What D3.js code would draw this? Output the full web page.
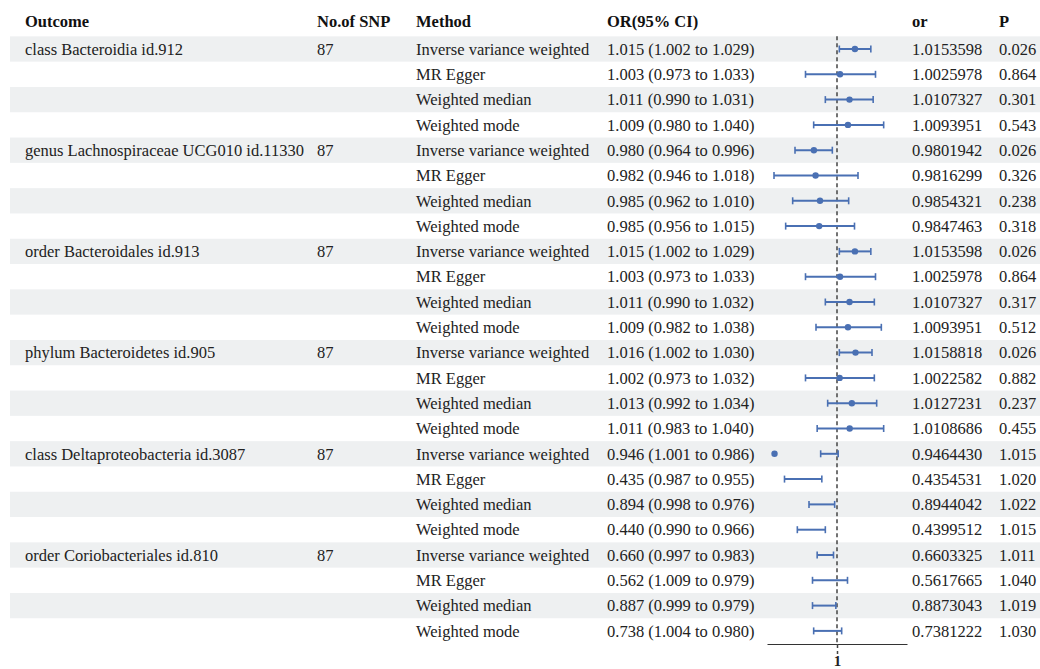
<html>
<head>
  <script src="https://d3js.org/d3.v7.min.js"></script>
  <style>
    body { margin: 0; padding: 0; background: #fff; }
    svg text { font-family: "Liberation Serif", "DejaVu Serif", serif; font-size: 16.5px; fill: #222; }
    svg text.head { font-weight: bold; fill: #111; }
  </style>
</head>
<body>
<div id="chart"></div>
<script>
const outcomes = [
  "class Bacteroidia id.912", "", "", "",
  "genus Lachnospiraceae UCG010 id.11330", "", "", "",
  "order Bacteroidales id.913", "", "", "",
  "phylum Bacteroidetes id.905", "", "", "",
  "class Deltaproteobacteria id.3087", "", "", "",
  "order Coriobacteriales id.810", "", "", ""
];
const snps = ["87", "", "", "", "87", "", "", "", "87", "", "", "", "87", "", "", "", "87", "", "", "", "87", "", "", ""];
const methodNames = ["Inverse variance weighted", "MR Egger", "Weighted median", "Weighted mode"];
const orValues = [
  1.0153598, 1.0025978, 1.0107327, 1.0093951,
  0.9801942, 0.9816299, 0.9854321, 0.9847463,
  1.0153598, 1.0025978, 1.0107327, 1.0093951,
  1.0158818, 1.0022582, 1.0127231, 1.0108686,
  0.9464430, 0.4354531, 0.8944042, 0.4399512,
  0.6603325, 0.5617665, 0.8873043, 0.7381222
];
const ciLow = [
  1.002, 0.973, 0.990, 0.980,
  0.964, 0.946, 0.962, 0.956,
  1.002, 0.973, 0.990, 0.982,
  1.002, 0.973, 0.992, 0.983,
  1.001, 0.987, 0.998, 0.990,
  0.997, 1.009, 0.999, 1.004
];
const ciHigh = [
  1.029, 1.033, 1.031, 1.040,
  0.996, 1.018, 1.010, 1.015,
  1.029, 1.033, 1.032, 1.038,
  1.030, 1.032, 1.034, 1.040,
  0.986, 0.955, 0.976, 0.966,
  0.983, 0.979, 0.979, 0.980
];
const pValues = [
  "0.026", "0.864", "0.301", "0.543",
  "0.026", "0.326", "0.238", "0.318",
  "0.026", "0.864", "0.317", "0.512",
  "0.026", "0.882", "0.237", "0.455",
  "1.015", "1.020", "1.022", "1.015",
  "1.011", "1.040", "1.019", "1.030"
];
const headers = ["Outcome", "No.of SNP", "Method", "OR(95% CI)", "or", "P"];

const width = 1040, height = 669;
const rowTop = 49, rowH = 25.3;
const colX = [25, 317, 416, 607, 912, 999];
const blue = "#4a70b3";

const rows = orValues.map((v, i) => ({
  outcome: outcomes[i],
  snp: snps[i],
  method: methodNames[i % 4],
  or: v,
  lo: ciLow[i],
  hi: ciHigh[i],
  p: pValues[i]
}));

const svg = d3.select("#chart").append("svg")
  .attr("width", width)
  .attr("height", height);

const y = i => rowTop + i * rowH;
const x = d3.scaleLinear().domain([0.94, 1.06]).range([767, 907]);

// row shading
svg.selectAll("rect.band")
  .data(rows.filter((d, i) => i % 2 === 0))
  .enter().append("rect")
  .attr("x", 10)
  .attr("y", (d, i) => y(i * 2) - rowH / 2)
  .attr("width", width - 10)
  .attr("height", rowH)
  .attr("fill", "#eef0f1");

// header
svg.selectAll("text.head")
  .data(headers)
  .enter().append("text")
  .attr("class", "head")
  .attr("x", (d, i) => colX[i])
  .attr("y", 21)
  .attr("dy", "0.35em")
  .text(d => d);

// table text
const cols = [
  d => d.outcome,
  d => d.snp,
  d => d.method,
  d => `${d.or.toFixed(3)} (${d.lo.toFixed(3)} to ${d.hi.toFixed(3)})`,
  d => d.or.toFixed(7),
  d => d.p
];
cols.forEach((fn, c) => {
  svg.selectAll(null)
    .data(rows)
    .enter().append("text")
    .attr("x", colX[c])
    .attr("y", (d, i) => y(i))
    .attr("dy", "0.35em")
    .text(fn);
});

// reference line at 1
svg.append("line")
  .attr("x1", x(1)).attr("x2", x(1))
  .attr("y1", y(0) - rowH / 2).attr("y2", 644)
  .attr("stroke", "#444")
  .attr("stroke-width", 1.5)
  .attr("stroke-dasharray", "4,3");

// axis
const axis = d3.axisBottom(x).tickValues([1]).tickSize(10).tickSizeOuter(0).tickFormat(d3.format("d"));
const ax = svg.append("g").attr("transform", "translate(0,644)").call(axis);
ax.select(".domain").attr("stroke", "#333");
ax.selectAll(".tick line").attr("stroke", "#444").attr("stroke-width", 1.5).attr("stroke-dasharray", "4,3");
ax.selectAll(".tick text")
  .attr("y", 11)
  .attr("dy", "0.71em")
  .style("font-family", "Liberation Serif, serif")
  .style("font-size", "15px")
  .style("font-weight", "bold")
  .attr("fill", "#222");

// whiskers
const [d0, d1] = x.domain();
const clamp = v => Math.max(d0, Math.min(d1, v));
const g = svg.append("g");
rows.forEach((d, i) => {
  const a = x(clamp(Math.min(d.lo, d.hi)));
  const b = x(clamp(Math.max(d.lo, d.hi)));
  const yy = y(i);
  g.append("line").attr("x1", a).attr("x2", b).attr("y1", yy).attr("y2", yy)
    .attr("stroke", blue).attr("stroke-width", 2);
  [a, b].forEach(px => {
    g.append("line").attr("x1", px).attr("x2", px).attr("y1", yy - 3.5).attr("y2", yy + 3.5)
      .attr("stroke", blue).attr("stroke-width", 1.6);
  });
  if (d.or >= d0 && d.or <= d1) {
    g.append("circle").attr("cx", x(d.or)).attr("cy", yy).attr("r", 3.2).attr("fill", blue);
  }
});
</script>
</body>
</html>
